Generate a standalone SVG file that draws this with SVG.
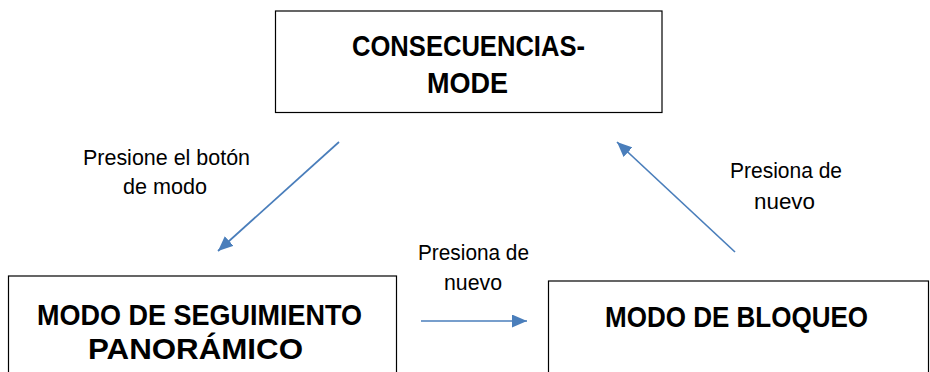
<svg xmlns="http://www.w3.org/2000/svg" width="930" height="372" viewBox="0 0 930 372">
<style>
.box{fill:#fff;stroke:#000;stroke-width:1.2}
.title{font-family:"Liberation Sans",Arial,sans-serif;font-weight:bold;font-size:30px;fill:#000;text-anchor:middle}
.lbl{font-family:"Liberation Sans",Arial,sans-serif;font-size:22px;fill:#000;text-anchor:middle}
.conn{stroke:#4a7ebb;stroke-width:1.7;fill:none;marker-end:url(#ah)}
</style>
<defs>
<marker id="ah" markerUnits="userSpaceOnUse" markerWidth="15" markerHeight="13" refX="15" refY="6.5" orient="auto">
<path d="M0,0 L15,6.5 L0,13 z" fill="#4a7ebb"/>
</marker>
</defs>
<rect width="930" height="372" fill="#fff"/>
<g id="node-consecuencias">
<rect class="box" x="275.5" y="11" width="386.5" height="101.5"/>
<text class="title" x="468.5" y="56" textLength="233" lengthAdjust="spacingAndGlyphs">CONSECUENCIAS-</text>
<text class="title" x="467.5" y="93" textLength="81" lengthAdjust="spacingAndGlyphs">MODE</text>
</g>
<g id="node-seguimiento">
<rect class="box" x="8.5" y="276" width="388" height="110"/>
<text class="title" x="199.5" y="325" textLength="325" lengthAdjust="spacingAndGlyphs">MODO DE SEGUIMIENTO</text>
<text class="title" x="195.5" y="359" textLength="215" lengthAdjust="spacingAndGlyphs">PANORÁMICO</text>
</g>
<g id="node-bloqueo">
<rect class="box" x="548.5" y="281" width="380" height="105"/>
<text class="title" x="736.5" y="327" textLength="263" lengthAdjust="spacingAndGlyphs">MODO DE BLOQUEO</text>
</g>
<g id="connectors">
<line class="conn" x1="339" y1="142" x2="218" y2="251"/>
<line class="conn" x1="421" y1="321" x2="527" y2="321"/>
<line class="conn" x1="735" y1="252" x2="617" y2="142"/>
</g>
<g id="labels">
<text class="lbl" x="166.5" y="165" textLength="167" lengthAdjust="spacingAndGlyphs">Presione el botón</text>
<text class="lbl" x="165" y="194" textLength="84" lengthAdjust="spacingAndGlyphs">de modo</text>
<text class="lbl" x="473.5" y="260" textLength="111" lengthAdjust="spacingAndGlyphs">Presiona de</text>
<text class="lbl" x="473" y="290" textLength="58" lengthAdjust="spacingAndGlyphs">nuevo</text>
<text class="lbl" x="786" y="178" textLength="112" lengthAdjust="spacingAndGlyphs">Presiona de</text>
<text class="lbl" x="784.5" y="209" textLength="61" lengthAdjust="spacingAndGlyphs">nuevo</text>
</g>
</svg>
